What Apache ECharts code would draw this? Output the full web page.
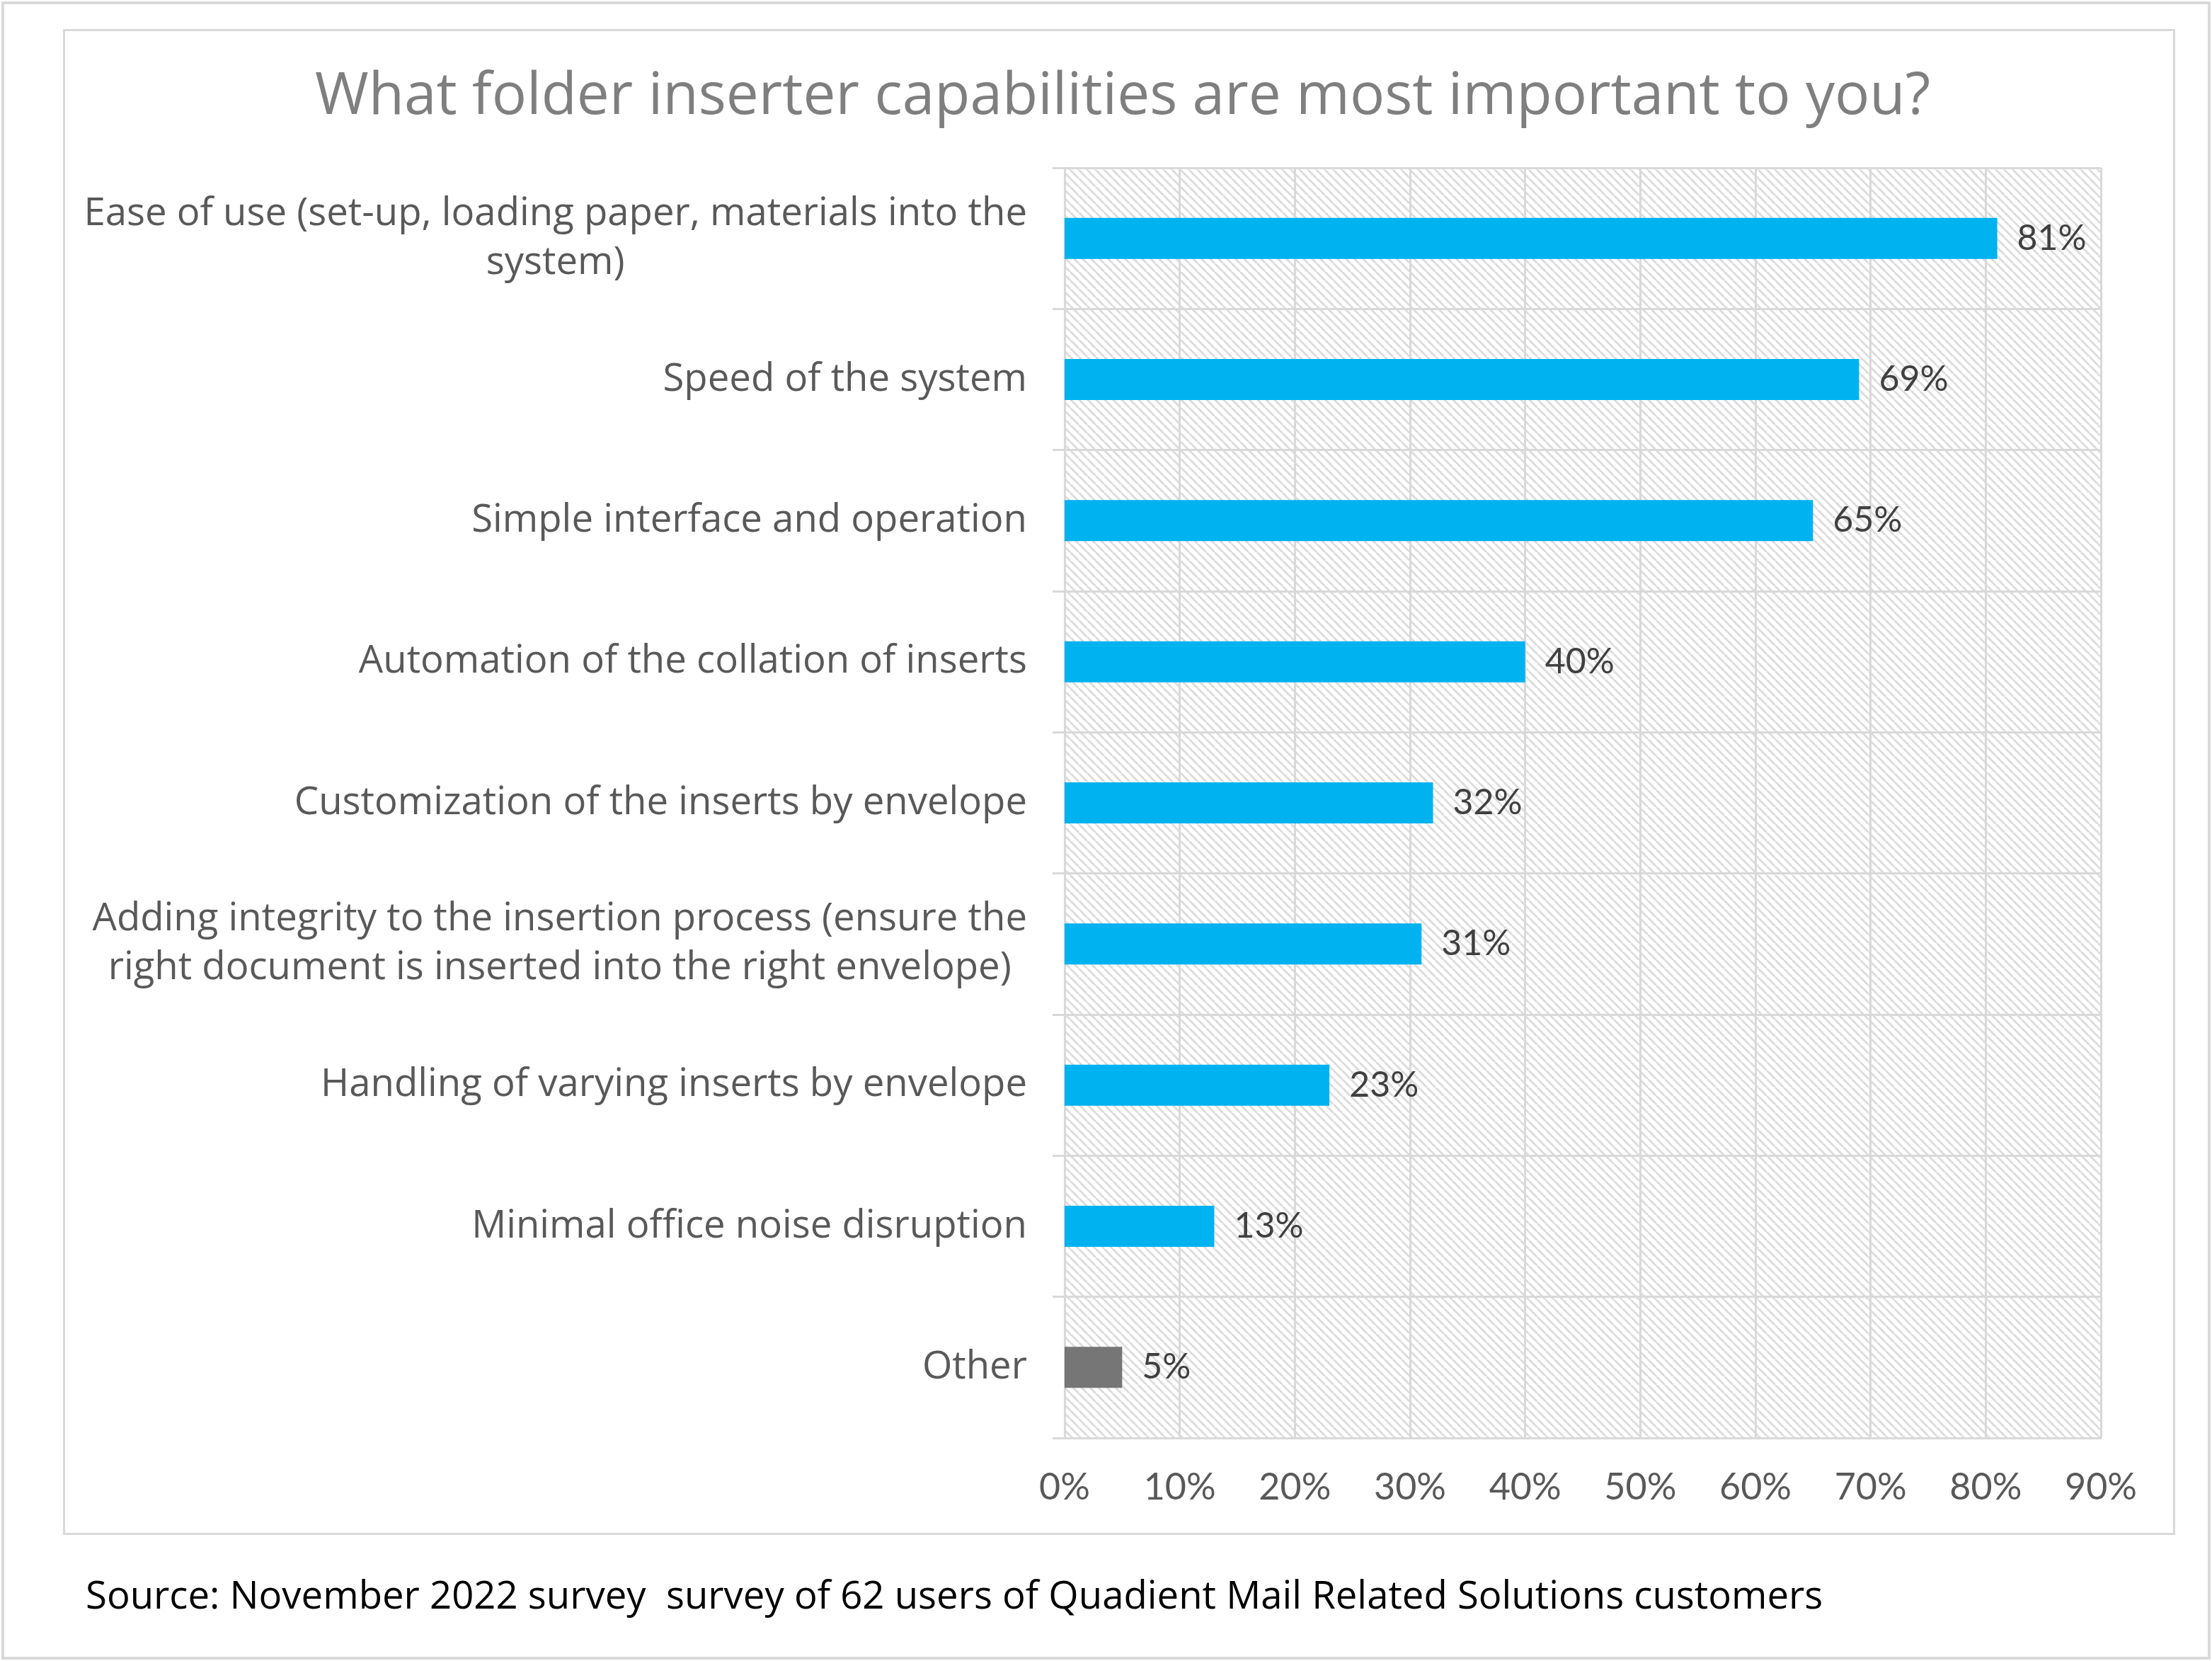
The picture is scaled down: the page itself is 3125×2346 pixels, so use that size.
<!DOCTYPE html>
<html>
<head>
<meta charset="utf-8">
<script src="https://cdn.jsdelivr.net/npm/echarts@6/dist/echarts.min.js"></script>
<style>
  html, body { margin: 0; padding: 0; background: #ffffff; }
  #chart { width: 3125px; height: 2346px; }
</style>
</head>
<body>
<div id="chart"></div>
<script>
// ---- data ----
const titleText = 'What folder inserter capabilities are most important to you?';
const sourceText = 'Source: November 2022 survey  survey of 62 users of Quadient Mail Related Solutions customers';
const categories = [
  'Ease of use (set-up, loading paper, materials into the\nsystem)',
  'Speed of the system',
  'Simple interface and operation',
  'Automation of the collation of inserts',
  'Customization of the inserts by envelope',
  'Adding integrity to the insertion process (ensure the\nright document is inserted into the right envelope)',
  'Handling of varying inserts by envelope',
  'Minimal office noise disruption',
  'Other'
];
const values = [81, 69, 65, 40, 32, 31, 23, 13, 5];
const axisMin = 0, axisMax = 90, axisStep = 10;

// ---- styles ----
const BLUE = '#00B2EF';
const GRAY = '#767676';
const LINE = '#d9d9d9';
const FONT = 'Open Sans';
const NUMFONT = 'Lato';

// hatch pattern for plot background
function makeHatch() {
  const s = 12;
  const c = document.createElement('canvas');
  c.width = s; c.height = s;
  const ctx = c.getContext('2d');
  ctx.fillStyle = '#ffffff';
  ctx.fillRect(0, 0, s, s);
  ctx.strokeStyle = '#dcdcdc';
  ctx.lineWidth = 3;
  for (const x0 of [-s, 0, s]) {
    ctx.beginPath();
    ctx.moveTo(x0, 0);
    ctx.lineTo(x0 + s, s);
    ctx.stroke();
  }
  return c;
}

const chart = echarts.init(document.getElementById('chart'), null, { renderer: 'canvas' });

const option = {
  backgroundColor: '#ffffff',
  animation: false,
  title: [
    {
      text: titleText,
      left: 1581,
      textAlign: 'center',
      top: 92,
      textStyle: { fontFamily: FONT, fontSize: 82, fontWeight: 'normal', color: '#7f7f7f' }
    },
    {
      text: sourceText,
      left: 116,
      top: 2224,
      textStyle: { fontFamily: FONT, fontSize: 54.5, fontWeight: 'normal', color: '#000000' }
    }
  ],
  graphic: [
    { type: 'rect', silent: true, z: -10,
      shape: { x: 4, y: 4, width: 3117, height: 2338 },
      style: { fill: 'none', stroke: LINE, lineWidth: 4 } },
    { type: 'rect', silent: true, z: -10,
      shape: { x: 90.5, y: 42.5, width: 2981, height: 2124 },
      style: { fill: 'none', stroke: LINE, lineWidth: 3 } }
  ],
  grid: {
    left: 1504, top: 237, width: 1464, height: 1794,
    show: true,
    borderWidth: 0,
    backgroundColor: { image: makeHatch(), repeat: 'repeat' }
  },
  xAxis: {
    type: 'value',
    min: axisMin, max: axisMax, interval: axisStep,
    axisLine: { show: true, lineStyle: { color: LINE, width: 3 } },
    axisTick: { show: false },
    splitLine: { show: true, lineStyle: { color: LINE, width: 3 } },
    axisLabel: {
      margin: 44,
      formatter: '{value}%',
      fontFamily: NUMFONT, fontSize: 52, color: '#595959'
    }
  },
  yAxis: {
    type: 'category',
    inverse: true,
    data: categories,
    axisLine: { show: true, lineStyle: { color: LINE, width: 3 } },
    axisTick: { show: true, length: 17, lineStyle: { color: LINE, width: 3 } },
    splitLine: { show: true, lineStyle: { color: LINE, width: 3 } },
    axisLabel: {
      margin: 53,
      align: 'right',
      formatter: function (v) {
        return v.split('\n').map(l => '{c|' + l + '}').join('\n');
      },
      rich: {
        c: { align: 'center', fontFamily: FONT, fontSize: 54.5, color: '#595959', lineHeight: 69 }
      }
    }
  },
  series: [{
    type: 'bar',
    data: values,
    barWidth: 58,
    itemStyle: {
      color: function (p) { return p.name === 'Other' ? GRAY : BLUE; }
    },
    label: {
      show: true,
      position: 'right',
      distance: 28,
      formatter: '{c}%',
      fontFamily: NUMFONT, fontSize: 50, color: '#404040'
    }
  }]
};

chart.setOption(option);
</script>
</body>
</html>
